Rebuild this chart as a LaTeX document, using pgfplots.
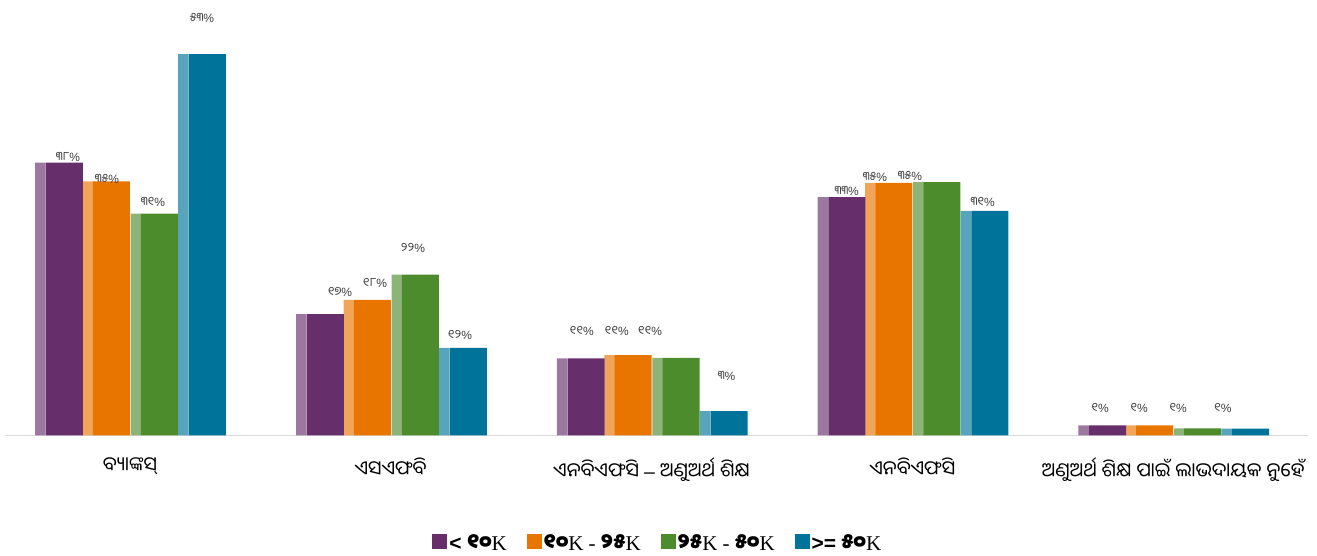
\documentclass[border=0pt]{standalone}
\usepackage{pgfplots}
\usepackage{pgfplotstable}
\pgfplotsset{compat=1.18}
\usepackage{fontspec}
\setmainfont{Liberation Serif}
\newfontfamily\oriya[Script=Oriya]{Noto Sans Oriya UI}
\newfontfamily\sans{Liberation Sans}
\definecolor{cPurple}{HTML}{662E6B}
\definecolor{cOrange}{HTML}{E87500}
\definecolor{cGreen}{HTML}{4D8C2C}
\definecolor{cBlue}{HTML}{00739A}
\pgfplotstableread{
x a b c d
0 38.0 35.4 30.9 53.1
1 16.9 18.9 22.4 12.2
2 10.75 11.2 10.8 3.4
3 33.2 35.2 35.3 31.3
4 1.42 1.42 1.0 0.95
}\data
\pgfplotstableread{
x y lab
-0.2377 38.83 ୩୮
-0.0882 35.72 ୩୫
0.0882 32.52 ୩୧
0.2761 58.15 ୫୩
0.8052 20.03 ୧୭
0.9394 21.20 ୧୮
1.0851 26.11 ୨୨
1.2653 14.00 ୧୨
1.7320 14.60 ୧୧
1.8662 14.60 ୧୧
1.9939 14.60 ୧୧
2.2880 8.33 ୩
2.7481 34.00 ୩୩
2.8566 35.96 ୩୫
2.9908 36.14 ୩୫
3.2696 32.56 ୩୧
3.7193 3.79 ୧
3.8689 3.79 ୧
4.0184 3.79 ୧
4.1898 3.79 ୧
}\labels
\newcommand{\od}[1]{{\oriya\bfseries #1}}
\begin{document}
\begin{tikzpicture}
\useasboundingbox (0,-120.5pt) rectangle (1317pt,435.5pt);
\begin{axis}[
  at={(5pt,0pt)}, anchor=south west,
  scale only axis, width=1303pt, height=430.8pt,
  xmin=-0.479, xmax=4.517, ymin=0, ymax=60,
  axis x line*=bottom, axis y line=none,
  x axis line style={draw=black!15, line width=1.5pt, -},
  ytick=\empty, xtick={0,1,2,3,4},
  major tick length=0pt,
  xticklabels={{ବ୍ୟାଙ୍କସ୍},{ଏସଏଫବି},{ଏନବିଏଫସି {\sans –} ଅଣୁଅର୍ଥ ଶିକ୍ଷ},{ଏନବିଏଫସି},{ଅଣୁଅର୍ଥ ଶିକ୍ଷ ପାଇଁ ଲାଭଦାୟକ ନୁହେଁ}},
  xticklabel style={font=\oriya\fontsize{19.5}{22}\selectfont, text=black, yshift=-19pt},
  clip=false,
  legend style={at={(0.501,-0.2495)}, anchor=center, draw=none, fill=none,
    legend columns=4, font=\fontsize{21}{24}\selectfont,
    /tikz/every even column/.append style={column sep=18pt},
    inner sep=0pt},
  legend cell align=left,
]
% light textured strips
\addplot[ybar, bar width=10.5pt, bar shift=-89.5pt, fill=cPurple!65!white, draw=none, forget plot] table[x=x,y=a]{\data};
\addplot[ybar, bar width=10.5pt, bar shift=-42pt, fill=cOrange!65!white, draw=none, forget plot] table[x=x,y=b]{\data};
\addplot[ybar, bar width=10.5pt, bar shift=6pt, fill=cGreen!65!white, draw=none, forget plot] table[x=x,y=c]{\data};
\addplot[ybar, bar width=10.5pt, bar shift=53.5pt, fill=cBlue!65!white, draw=none, forget plot] table[x=x,y=d]{\data};
% main bars
\addplot[ybar, bar width=37pt, bar shift=-65.5pt, fill=cPurple, draw=none,
  legend image code/.code={\fill[cPurple] (0pt,-6pt) rectangle (15pt,9pt);}] table[x=x,y=a]{\data};
\addplot[ybar, bar width=37pt, bar shift=-18.5pt, fill=cOrange, draw=none,
  legend image code/.code={\fill[cOrange] (0pt,-6pt) rectangle (15pt,9pt);}] table[x=x,y=b]{\data};
\addplot[ybar, bar width=37pt, bar shift=29.5pt, fill=cGreen, draw=none,
  legend image code/.code={\fill[cGreen] (0pt,-6pt) rectangle (15pt,9pt);}] table[x=x,y=c]{\data};
\addplot[ybar, bar width=37pt, bar shift=77.5pt, fill=cBlue, draw=none,
  legend image code/.code={\fill[cBlue] (0pt,-6pt) rectangle (15pt,9pt);}] table[x=x,y=d]{\data};
% value labels
\addplot[draw=none, mark=none, forget plot, point meta=explicit symbolic,
  nodes near coords={{\oriya\pgfplotspointmeta}{\sans\%}},
  every node near coord/.style={anchor=center, inner sep=0pt, text=black!75,
    font=\fontsize{12}{14}\selectfont}] table[x=x,y=y,meta=lab]{\labels};
\legend{{\sans\bfseries <} \od{୧୦}K,\od{୧୦}K - \od{୨୫}K,\od{୨୫}K - \od{୫୦}K,{\sans\bfseries >=} \od{୫୦}K}
\end{axis}
\end{tikzpicture}
\end{document}
